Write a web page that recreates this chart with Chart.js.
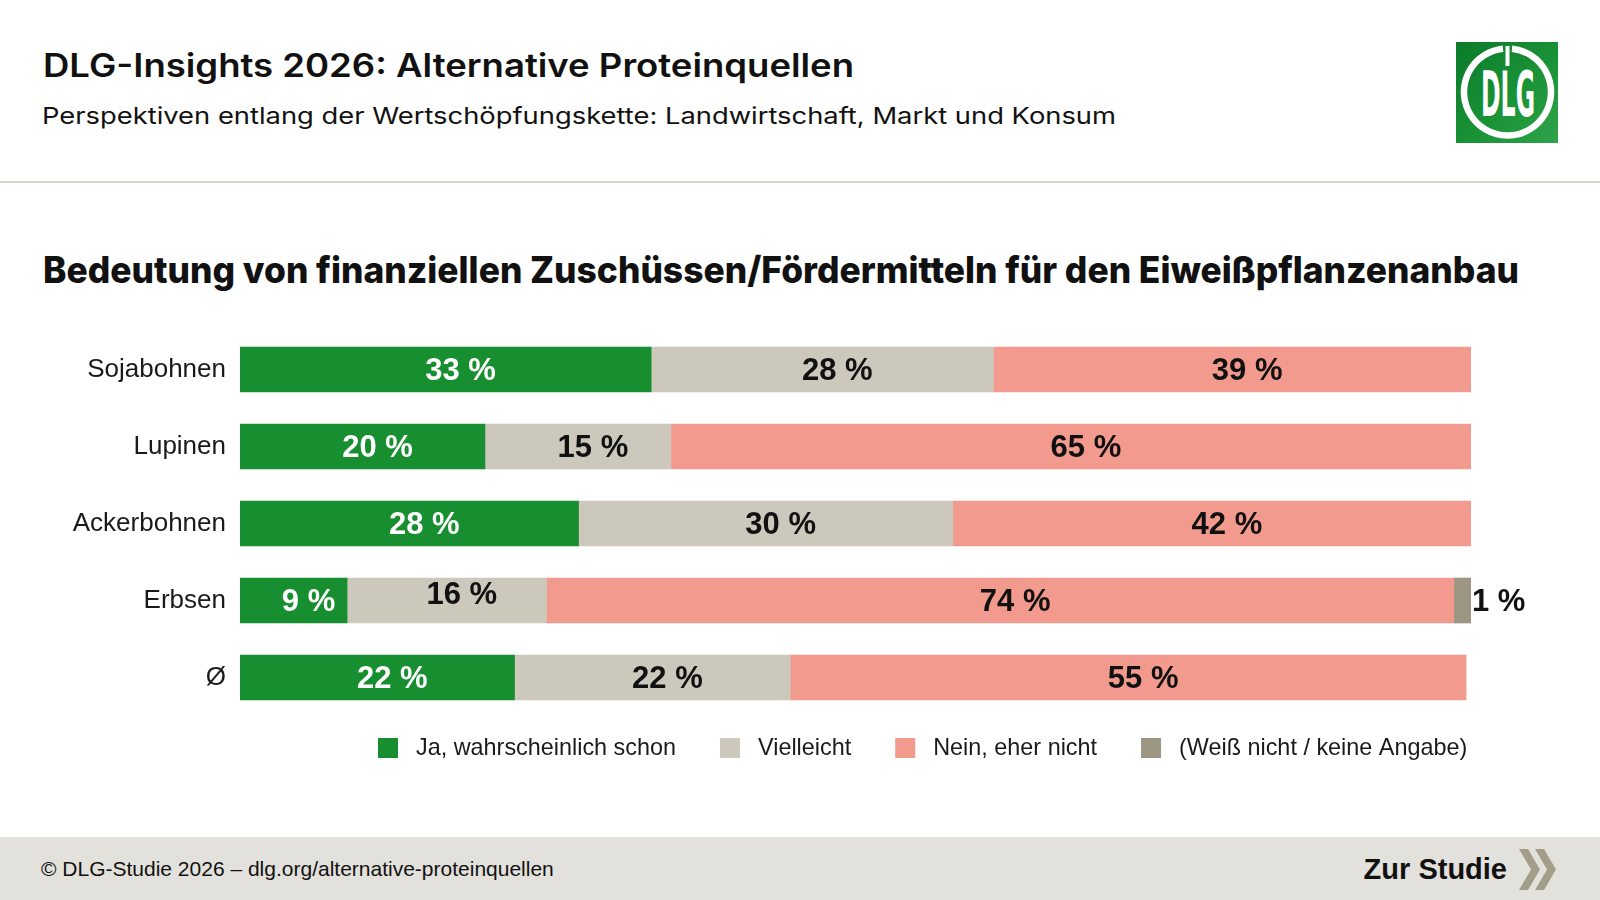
<!DOCTYPE html>
<html lang="de">
<head>
<meta charset="utf-8">
<title>DLG-Insights 2026: Alternative Proteinquellen</title>
<script src="https://cdn.jsdelivr.net/npm/chart.js@4.4.1/dist/chart.umd.min.js"></script>
<style>
  html, body { margin: 0; padding: 0; background: #fff; }
  body { width: 1600px; height: 900px; position: relative; overflow: hidden; font-family: "Liberation Sans", Arial, sans-serif; }
  #deko { position: absolute; left: 0; top: 0; }
  #chart { position: absolute; left: 0; top: 0; }
</style>
</head>
<body>
<svg id="deko" width="1600" height="900" xmlns="http://www.w3.org/2000/svg">
  <defs>
    <linearGradient id="logoGruen" x1="0" y1="0" x2="1" y2="1">
      <stop offset="0" stop-color="#0b7a2b"/>
      <stop offset="0.55" stop-color="#1a9236"/>
      <stop offset="1" stop-color="#2fa34a"/>
    </linearGradient>
  </defs>
  <text x="43" y="77" font-family="Inter" font-weight="600" font-size="32" fill="#111" textLength="811" lengthAdjust="spacingAndGlyphs">DLG-Insights 2026: Alternative Proteinquellen</text>
  <text x="42" y="124" font-family="Inter" font-weight="400" font-size="23" fill="#111" textLength="1074" lengthAdjust="spacingAndGlyphs">Perspektiven entlang der Wertschöpfungskette: Landwirtschaft, Markt und Konsum</text>
  <rect x="0" y="181" width="1600" height="2" fill="#d9d6cc"/>
  <text x="43" y="283" font-family="Inter" font-weight="800" font-size="37" fill="#111" textLength="1476" lengthAdjust="spacingAndGlyphs">Bedeutung von finanziellen Zuschüssen/Fördermitteln für den Eiweißpflanzenanbau</text>

  <!-- Logo -->
  <rect x="1456" y="42" width="102" height="101" fill="url(#logoGruen)"/>
  <path d="M1512 48.7 A43.5 43.5 0 1 1 1503 48.7" fill="none" stroke="#fff" stroke-width="6.5"/>
  <rect x="1505.5" y="46" width="4" height="20" fill="#fff"/>
  <text x="1508" y="116" text-anchor="middle" font-family="DejaVu Sans" font-weight="700" font-size="62" fill="#fff" textLength="54" lengthAdjust="spacingAndGlyphs">DLG</text>

  <!-- Fußzeile -->
  <rect x="0" y="837" width="1600" height="63" fill="#e3e1dc"/>
  <text x="41" y="876" font-family="Liberation Sans" font-size="21" fill="#111">© DLG-Studie 2026 – dlg.org/alternative-proteinquellen</text>
  <text x="1507" y="879" text-anchor="end" font-family="Liberation Sans" font-weight="700" font-size="29" fill="#111">Zur Studie</text>
  <polygon points="1519,849 1528,849 1540,869.5 1528,890 1519,890 1531,869.5" fill="#a39e89"/>
  <polygon points="1535,849 1544,849 1556,869.5 1544,890 1535,890 1547,869.5" fill="#a39e89"/>
</svg>

<canvas id="chart" width="1600" height="900"></canvas>

<script>
// Daten
const kategorien = ['Sojabohnen', 'Lupinen', 'Ackerbohnen', 'Erbsen', 'Ø'];
const serienNamen = ['Ja, wahrscheinlich schon', 'Vielleicht', 'Nein, eher nicht', '(Weiß nicht / keine Angabe)'];
const jaWerte = [33.4, 19.9, 27.5, 8.7, 22.3];
const vielleichtWerte = [27.8, 15.1, 30.4, 16.2, 22.4];
const neinWerte = [38.8, 65.0, 42.1, 73.7, 54.9];
const weissNichtWerte = [null, null, null, 1.4, null];
const farben = ['#178f30', '#cdc8bc', '#f39a8e', '#9c9682'];

const FONT = '"Liberation Sans", Arial, sans-serif';

// Prozentwerte in die Balken schreiben
const wertLabels = {
    id: 'wertLabels',
    afterDatasetsDraw(chart) {
        const ctx = chart.ctx;
        ctx.save();
        ctx.font = 'bold 31px ' + FONT;
        ctx.textBaseline = 'middle';
        chart.data.datasets.forEach(function(ds, d) {
            chart.getDatasetMeta(d).data.forEach(function(bar, i) {
                const v = ds.data[i];
                if (v == null) return;
                const text = Math.round(v) + ' %';
                if (d === 3) {
                    // kleiner Anteil: Label rechts neben den Balken
                    ctx.textAlign = 'left';
                    ctx.fillStyle = '#111';
                    ctx.fillText(text, bar.x + 1, bar.y + 2);
                    return;
                }
                ctx.textAlign = 'center';
                ctx.fillStyle = d === 0 ? '#fff' : '#111';
                const dy = (kategorien[i] === 'Erbsen' && d === 1) ? -7 : 0;
                ctx.fillText(text, (bar.base + bar.x) / 2 + 15, bar.y + 2 + dy);
            });
        });
        ctx.restore();
    }
};

// Legende unter dem Diagramm
const legende = {
    id: 'legende',
    afterDraw(chart) {
        const ctx = chart.ctx;
        ctx.save();
        ctx.font = '23.4px ' + FONT;
        ctx.textBaseline = 'middle';
        ctx.textAlign = 'left';
        let x = 378;
        const y = 748;
        chart.data.datasets.forEach(function(ds) {
            ctx.fillStyle = ds.backgroundColor;
            ctx.fillRect(x, y - 10, 20, 20);
            ctx.fillStyle = '#1a1a1a';
            ctx.fillText(ds.label, x + 38, y + 1);
            x += 38 + ctx.measureText(ds.label).width + 44;
        });
        ctx.restore();
    }
};

const serienWerte = [jaWerte, vielleichtWerte, neinWerte, weissNichtWerte];

const ctx = document.getElementById('chart').getContext('2d');
const chart = new Chart(ctx, {
    type: 'bar',
    data: {
        labels: kategorien,
        datasets: serienNamen.map(function(name, k) {
            return {
                label: name,
                data: serienWerte[k],
                backgroundColor: farben[k],
                borderWidth: 0,
                barThickness: 45
            };
        })
    },
    options: {
        indexAxis: 'y',
        responsive: false,
        animation: false,
        layout: {
            padding: { left: 0, right: 129, top: 331, bottom: 184 }
        },
        plugins: {
            legend: { display: false },
            tooltip: { enabled: false }
        },
        scales: {
            x: {
                stacked: true,
                min: 0,
                max: 100,
                display: false
            },
            y: {
                stacked: true,
                grid: { display: false, drawTicks: false },
                border: { display: false },
                ticks: {
                    padding: 14,
                    color: '#1a1a1a',
                    font: { family: FONT, size: 26 }
                },
                afterFit: function(scale) {
                    scale.width = 240;
                }
            }
        }
    },
    plugins: [wertLabels, legende]
});
</script>
</body>
</html>
